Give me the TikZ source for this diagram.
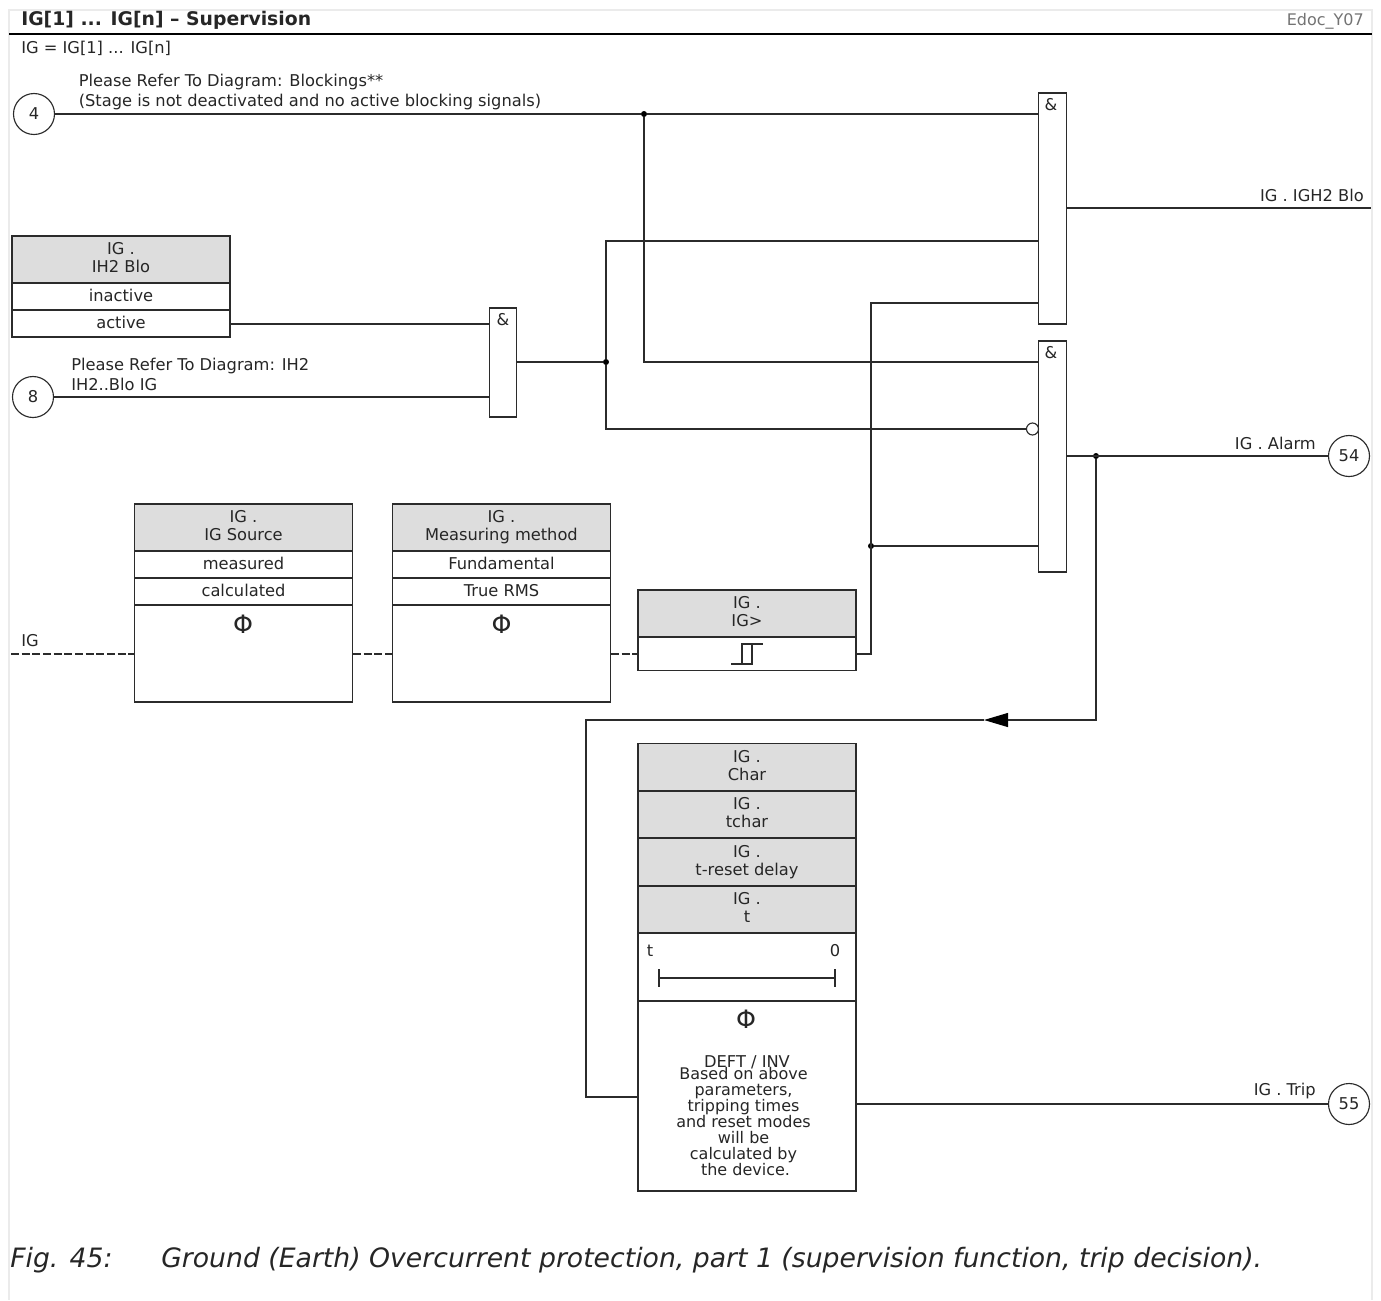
\documentclass[tikz,border=0pt]{standalone}
\usepackage{fontspec}
\setmainfont{DejaVu Sans}
\usetikzlibrary{arrows.meta}

\definecolor{wirecol}{HTML}{2B2B2B}
\definecolor{headcol}{HTML}{DDDDDD}
\definecolor{framecol}{HTML}{EBEBEB}

\tikzset{
  txt/.style={font=\fontsize{12.2}{13.5}\selectfont,text=black!85,inner sep=0pt,align=center},
  txtleft/.style={txt,anchor=west,align=left},
  txtright/.style={txt,anchor=east,align=right},
  wire/.style={draw=wirecol,line width=0.85pt},
  cellhead/.style={wire,fill=headcol,txt,text depth=3pt,minimum width=163.5pt,minimum height=35.25pt},
  cellrow/.style={wire,fill=white,txt,text height=9.3pt,text depth=2.5pt,minimum width=163.5pt,minimum height=20.25pt},
  cellbody/.style={wire,fill=white,minimum width=163.5pt},
  gate/.style={wire,fill=white,minimum width=20.5pt,inner sep=0pt},
  pin/.style={wire,fill=white,circle,txt,minimum size=30.75pt},
  notetxt/.style={txtleft,font=\fontsize{12.2}{15}\selectfont},
  captxt/.style={txtleft,font=\fontsize{20}{22}\itshape\selectfont},
  dot/.style={circle,fill=black,inner sep=0pt,minimum size=4.5pt},
  phi/.style={txt,font=\fontsize{19}{19}\selectfont}
}

\begin{document}
\begin{tikzpicture}[x=0.75pt,y=-0.75pt]

\useasboundingbox (0,0) rectangle (1381,1300);

% Frame
\draw[framecol,line width=1.5pt]
(9,1300)
--
(9,10)
--
(1372,10)
--
(1372,1300);

\draw[black,line width=1.7pt]
(9,34)
--
(1372,34);

\node[txtleft,font=\fontsize{14.1}{16}\bfseries\selectfont] (title)
at (21,20)
{IG[1] ... IG[n] – Supervision};

\node[txtright,text=black!55,font=\fontsize{12}{14}\selectfont] (docref)
at (1364,21)
{Edoc\_Y07};

\node[txtleft] (legend)
at (21,48)
{IG = IG[1] ... IG[n]};

% Pins
\node[pin] (pinblock) at (34,114) {4};
\node[pin] (pinih) at (33,397) {8};
\node[pin] (pinalarm) at (1349,456) {54};
\node[pin] (pintrip) at (1349,1104) {55};

\node[notetxt] (noteblock)
at (78.5,92.5)
{Please Refer To Diagram: Blockings**\\(Stage is not deactivated and no active blocking signals)};

\node[notetxt] (noteih)
at (71,374)
{Please Refer To Diagram: IH2\\IH2..Blo IG};

% Gates
\node[gate,minimum height=173.25pt] (gatetop) at (1052.5,208.5) {};
\node[txt] (gatetopsign) at (1051,105) {\&};

\node[gate,minimum height=173.25pt] (gatemid) at (1052.5,456.5) {};
\node[txt] (gatemidsign) at (1051,353) {\&};

\node[gate,minimum height=81.75pt] (gateih) at (503,362.5) {};
\node[txt] (gateihsign) at (503,320) {\&};

% Settings
\node[cellhead] (ih2head) at (121,259.5) {IG .\\IH2 Blo};
\node[cellrow] (ih2off) at (121,296.5) {inactive};
\node[cellrow] (ih2on) at (121,323.5) {active};

\node[cellhead] (sourcehead) at (243.5,527.5) {IG .\\IG Source};
\node[cellrow] (sourcemeas) at (243.5,564.5) {measured};
\node[cellrow] (sourcecalc) at (243.5,591.5) {calculated};
\node[cellbody,minimum height=72.75pt] (sourcebody) at (243.5,653.5) {};
\node[phi] (sourcephi) at (243,624) {Φ};

\node[cellhead] (methodhead) at (501.5,527.5) {IG .\\Measuring method};
\node[cellrow] (methodfund) at (501.5,564.5) {Fundamental};
\node[cellrow] (methodrms) at (501.5,591.5) {True RMS};
\node[cellbody,minimum height=72.75pt] (methodbody) at (501.5,653.5) {};
\node[phi] (methodphi) at (501.5,624) {Φ};

\node[cellhead] (pickhead) at (747,613.5) {IG .\\IG>};
\node[cellbody,minimum height=24.75pt] (pickbody) at (747,654) {};

% Hysteresis
\draw[wirecol,line width=0.8pt]
(731,664)
--
(752,664)
--
(752,644);

\draw[wirecol,line width=0.8pt]
(742,664)
--
(742,644)
--
(763,644);

% Timer stack
\node[cellhead] (charhead) at (747,767) {IG .\\Char};
\node[cellhead] (tcharhead) at (747,814.5) {IG .\\tchar};
\node[cellhead] (resethead) at (747,862) {IG .\\t-reset delay};
\node[cellhead] (thead) at (747,909.5) {IG .\\t};
\node[cellbody,minimum height=51pt] (timerbody) at (747,967) {};
\node[cellbody,minimum height=142.5pt] (calcbody) at (747,1096) {};

\node[txt] (timert) at (650,951) {t};
\node[txt] (timerzero) at (835,951) {0};

\draw[wirecol,line width=0.8pt]
(659,978)
--
(835,978);

\draw[wirecol,line width=0.8pt]
(659,969)
--
(659,987);

\draw[wirecol,line width=0.8pt]
(835,969)
--
(835,987);

\node[phi] (calcphi) at (746,1019) {Φ};
\node[txt] (calcmode) at (747,1062) {DEFT / INV};
\node[txt,font=\fontsize{12}{12}\selectfont] (calcnote)
at (743.5,1121.5)
{Based on above\\parameters,\\tripping times\\and reset modes\\will be\\calculated by\\\hspace*{3pt}the device.};

% Junctions
\node[dot] (dotblock) at (644,114) {};
\node[dot] (dotgate) at (606,362) {};
\node[dot] (dotpick) at (871,546) {};
\node[dot] (dotalarm) at (1096,456) {};
\node[wire,circle,fill=white,inner sep=0pt,minimum size=9pt] (invert) at (1032.5,429) {};

\coordinate (feedgate) at (1039,241);
\coordinate (feedpick) at (1039,303);
\coordinate (feedblock) at (1039,362);
\coordinate (feedmid) at (1039,546);
\coordinate (pickbend) at (871,654);
\coordinate (topout) at (1371,208);
\coordinate (ih2out) at (230,324);
\coordinate (igstart) at (11,654);
\coordinate (tipmid) at (984,720);
\coordinate (backcorner) at (586,720);
\coordinate (backtimer) at (638,1097);

% Wires
\draw[wire]
(pinblock)
--
(dotblock);

\draw[wire]
(dotblock)
--
(gatetop.west |- dotblock);

\draw[wire]
(dotblock)
|-
(feedblock);

\draw[wire]
(ih2out)
--
(gateih.west |- ih2out);

\draw[wire]
(pinih)
--
(gateih.west |- pinih);

\draw[wire]
(gateih.east |- dotgate)
--
(dotgate);

\draw[wire]
(dotgate)
|-
(feedgate);

\draw[wire]
(dotgate)
|-
(invert.west);

\draw[wire]
(pickbody.east)
--
(pickbend)
|-
(feedpick);

\draw[wire]
(dotpick)
--
(feedmid);

\draw[wire]
(gatetop.east |- topout)
--
(topout);

\draw[wire]
(gatemid.east |- pinalarm)
--
(pinalarm);

\draw[wire,-{Triangle[length=18pt,width=10.5pt,black]}]
(dotalarm)
|-
(tipmid);

\draw[wire]
(tipmid)
--
(backcorner)
|-
(backtimer);

\draw[wire]
(calcbody.east |- pintrip)
--
(pintrip);

% Dashed measuring line
\draw[wire,line width=0.8pt,dash pattern=on 6pt off 2pt]
(igstart)
--
(sourcebody.west |- igstart);

\draw[wire,line width=0.8pt,dash pattern=on 6pt off 2pt]
(sourcebody.east |- igstart)
--
(methodbody.west |- igstart);

\draw[wire,line width=0.8pt,dash pattern=on 6pt off 2pt]
(methodbody.east |- igstart)
--
(pickbody.west |- igstart);

% Signal names
\node[txtleft] (iglabel) at (21,641) {IG};
\node[txtright] (toplabel) at (1364,195) {IG . IGH2 Blo};
\node[txtright] (alarmlabel) at (1316,443) {IG . Alarm};
\node[txtright] (triplabel) at (1316,1091) {IG . Trip};

% Caption
\node[captxt] (capnum)
at (10,1260)
{Fig. 45:};

\node[captxt] (captext)
at (161,1260)
{Ground (Earth) Overcurrent protection, part 1 (supervision function, trip decision).};

\end{tikzpicture}
\end{document}
